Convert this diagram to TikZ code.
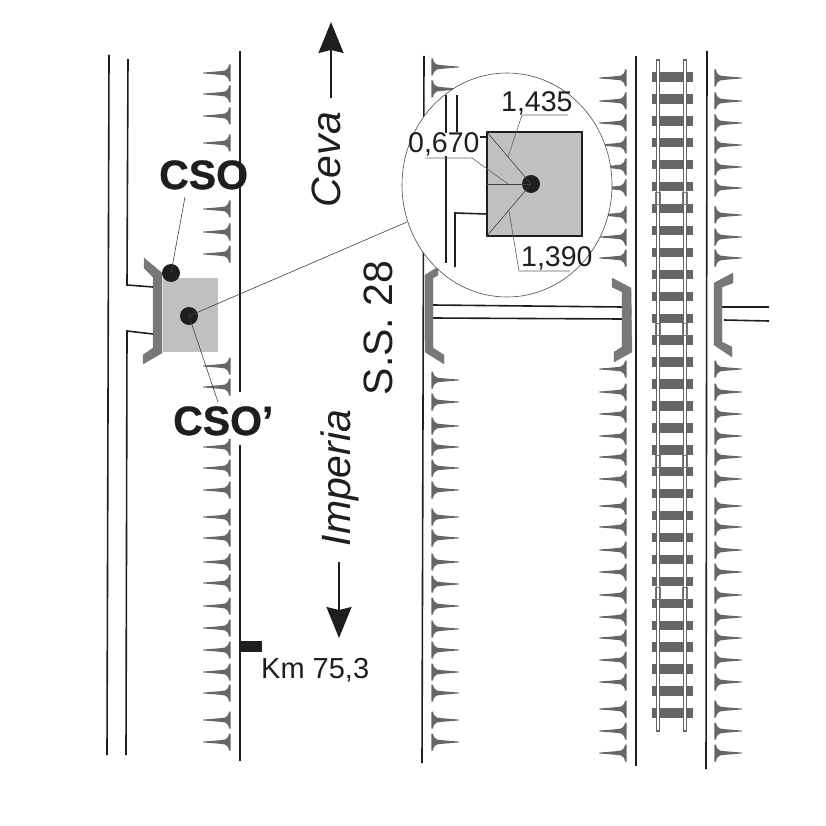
\documentclass[tikz,border=0pt]{standalone}
\usepackage{fontspec}
\setmainfont{Liberation Sans}
\newfontfamily\heavyfont[FakeBold=0.8]{Liberation Sans Bold}
\usetikzlibrary{arrows.meta,shapes.geometric}
\definecolor{inkdark}{HTML}{1E1E1E}
\definecolor{spikegray}{HTML}{666666}
\definecolor{boxgray}{HTML}{C0C0C0}
\definecolor{wallgray}{HTML}{787878}
\tikzset{
  roadline/.style={draw=inkdark,line width=1.6pt},
  leader/.style={draw=inkdark!85,line width=0.6pt},
  dimline/.style={draw=inkdark!70,line width=0.6pt},
  wall/.style={fill=wallgray,draw=wallgray,line width=0.4pt},
  dotmark/.style={circle,fill=inkdark,inner sep=0pt,minimum size=18pt},
  biglabel/.style={text=inkdark,font=\fontsize{41}{41}\selectfont\heavyfont,inner sep=0pt,anchor=base west},
  roadlabel/.style={text=inkdark,font=\fontsize{41}{41}\selectfont,inner sep=0pt,rotate=90,anchor=base},
  dimlabel/.style={text=inkdark,font=\fontsize{28.5}{28.5}\selectfont,inner sep=0pt,anchor=base west},
  spike/.pic={
    \fill[spikegray] (-27,-0.4) .. controls (-18,-1.2) and (-8,-1.8) .. (-5,-2.5)
      .. controls (-3,-3.2) and (-1.5,-5) .. (-1,-8.5) -- (0.6,-8.5)
      -- (0.6,8.5) -- (-1,8.5) .. controls (-1.5,5) and (-3,3.2) .. (-5,2.5)
      .. controls (-8,1.8) and (-18,1.2) .. (-27,0.4) -- cycle;
  }
}
\begin{document}
\begin{tikzpicture}[x=1pt,y=-1pt]
  \useasboundingbox (0,0) rectangle (826,826);

  \draw[roadline] (109,55) -- (107,755);
  \draw[roadline] (128,59) -- (127,285) -- (153,287);
  \draw[roadline] (153,334) -- (127,331) -- (126,755);
  \draw[roadline] (240,51) -- (240,392);
  \draw[roadline] (240,445) -- (240,761);
  \draw[roadline] (424,56) -- (422,763);
  \draw[roadline] (636,56) -- (636,766);
  \draw[roadline] (707,51) -- (706,769);
  \draw[roadline] (433,305) -- (622,307);
  \draw[roadline] (433,318) -- (622,319);
  \draw[roadline] (722,307) -- (769,307);
  \draw[roadline] (724,320) -- (769,321);

  \foreach \y in {73,94,116,143,209,232,254,366,387,447,468,490,517,538,562,583,606,628,650,672,693,720,742}
    \pic at (230,\y) {spike};
  \foreach \y in {67,89,380,402,426,447,468,490,517,538,562,584,606,629,650,672,693,720,742}
    \pic[xscale=-1] at (432,\y) {spike};
  \foreach \y in {78,101,123,145,167,188,215,237,258,369,392,414,436,457,479,506,527,550,572,595,617,638,660,682,709,731,753} {
    \pic at (626,\y) {spike};
    \pic[xscale=-1] at (715,\y) {spike};
  }

  \foreach \i in {0,...,29}
    \fill[spikegray] (652,{77+21.93*\i-4.7}) rectangle (693,{77+21.93*\i+4.7});
  \foreach \x in {658,685}
    \draw[fill=white,draw=spikegray,line width=1.5pt] (\x-1.6,60) rectangle (\x+1.6,731);
  \foreach \y in {192,323,455,587} {
    \draw[draw=inkdark!60,line width=0.5pt] (655.5,\y) rectangle (660.5,\y+12);
    \draw[draw=inkdark!60,line width=0.5pt] (682.5,\y) rectangle (687.5,\y+12);
  }

  \fill[boxgray] (163,278) rectangle (218,352);
  \draw[wall] (144,258) -- (162,273) -- (162,353) -- (143,364) -- (143,355) -- (153,348) -- (153,277) -- (144,268) -- cycle;
  \draw[wall] (438,267) -- (425,275) -- (425,352) -- (444,364) -- (444,355) -- (433,348) -- (433,278) -- (438,275) -- cycle;
  \draw[wall] (612,278) -- (631,288) -- (632,352) -- (614,362) -- (614,352) -- (622,347) -- (622,292) -- (612,287) -- cycle;
  \draw[wall] (733,273) -- (714,283) -- (714,345) -- (732,357) -- (732,347) -- (722,342) -- (722,287) -- (733,283) -- cycle;

  \fill[inkdark] (239,641) rectangle (262,652);

  \node[dotmark] (cso) at (171,273) {};
  \node[dotmark] (csop) at (189,316) {};
  \coordinate (csoend) at (185,197);
  \coordinate (csopend) at (218,402);
  \coordinate (zoomend) at (407,222);
  \draw[leader] (cso.center) -- (csoend);
  \draw[leader] (csop.center) -- (csopend);
  \draw[leader] (csop.center) -- (zoomend);

  \node[ellipse,draw=inkdark!80,fill=white,line width=0.6pt,inner sep=0pt,minimum width=210pt,minimum height=224pt] (zoomcircle) at (507,185) {};

  \draw[roadline] (446,95) -- (446,133);
  \draw[roadline] (446,156) -- (446,263);
  \draw[roadline] (457,95) -- (457,132);
  \draw[roadline] (455,267) -- (455,213) -- (487,214);
  \draw[roadline] (480,137) -- (487,137);
  \node[fill=boxgray,draw=inkdark,line width=1.3pt,inner sep=0pt,minimum width=95pt,minimum height=104pt] (plot) at (534.5,184) {};
  \node[dotmark] (plotdot) at (531,184) {};
  \draw[leader] (plotdot.center) -- (plot.north west);
  \draw[leader] (plotdot.center) -- (plot.west);
  \draw[leader] (plotdot.center) -- (plot.south west);
  \draw[dimline] (508,157) -- (522,115) -- (568,115);
  \draw[dimline] (508,184) -- (472,158) -- (425,158);
  \draw[dimline] (509,211) -- (519,271) -- (570,271);

  \node[dimlabel] (dima) at (501,112) {1,435};
  \node[dimlabel] (dimb) at (408,153) {0,670};
  \node[dimlabel] (dimc) at (521,266) {1,390};

  \node[biglabel] (csotext) at (159,189) {CSO};
  \node[biglabel] (csoptext) at (173,435) {CSO’};
  \node[roadlabel] (ceva) at (340,160) {\itshape Ceva};
  \node[roadlabel] (imperia) at (350,478) {\itshape Imperia};
  \node[roadlabel] (statale) at (392,328) {S.S. 28};
  \node[text=inkdark,font=\fontsize{29}{29}\selectfont,inner sep=0pt,anchor=base west] (km) at (261,678) {Km 75,3};

  \coordinate (upstart) at (331,98);
  \coordinate (uptip) at (331,22);
  \coordinate (downstart) at (339,562);
  \coordinate (downtip) at (339,638);
  \draw[roadline,-{Stealth[length=31pt,width=25pt,inset=3pt]}] (upstart) -- (uptip);
  \draw[roadline,-{Stealth[length=31pt,width=25pt,inset=3pt]}] (downstart) -- (downtip);
\end{tikzpicture}
\end{document}
